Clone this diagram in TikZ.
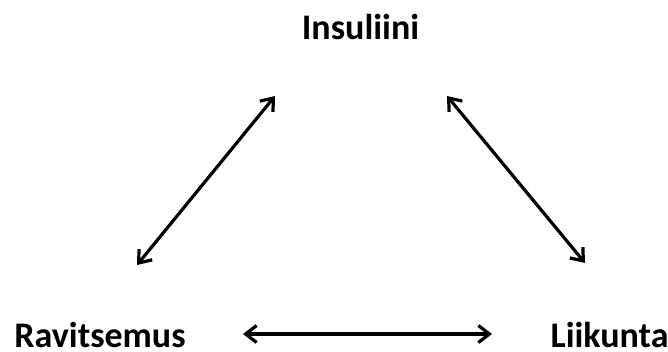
\documentclass[tikz,border=0pt]{standalone}
\usepackage{fontspec}
\setmainfont{Carlito}
\usetikzlibrary{arrows.meta}

\begin{document}
\begin{tikzpicture}[
  x=1pt, y=1pt,
  >={Straight Barb[length=11pt, width=17pt]},
  every node/.style={text=black, font=\fontsize{36}{38}\selectfont\bfseries, inner sep=0pt},
  link/.style={<->, line width=3.2pt, black},
]

% Canvas
\useasboundingbox (0,0) rectangle (668,351);

% Three factors
\node[anchor=base] (ins) at (360.5,311) {Insuliini};
\node[anchor=base] (rav) at (100,4) {Ravitsemus};
\node[anchor=base] (lii) at (609.5,4) {Liikunta};

% Arrow ends
\coordinate (rav-up) at (137,86);
\coordinate (ins-left) at (275,255);
\coordinate (ins-right) at (447,255);
\coordinate (lii-up) at (585,88);
\coordinate (rav-right) at (243,17);
\coordinate (lii-left) at (492,17);

% Links
\draw[link] (rav-up) -- (ins-left);
\draw[link] (ins-right) -- (lii-up);
\draw[link] (rav-right) -- (lii-left);

\end{tikzpicture}
\end{document}
